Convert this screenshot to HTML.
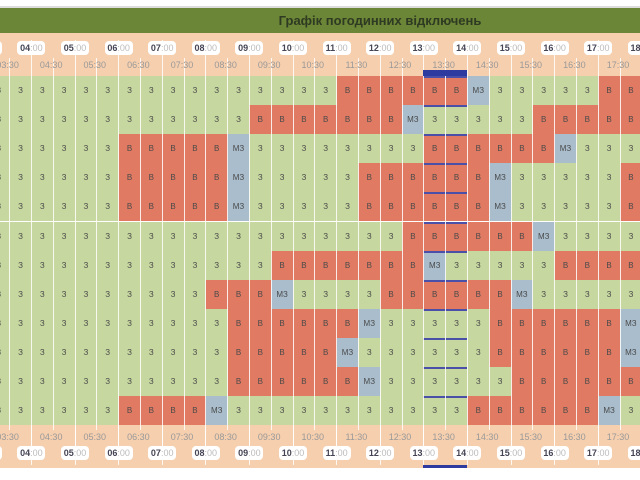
<!DOCTYPE html>
<html><head><meta charset="utf-8"><style>
html,body{margin:0;width:640px;height:480px;overflow:hidden}
body{background:#fff;font-family:"Liberation Sans",sans-serif}
#w{position:relative;width:640px;height:480px;overflow:hidden}
.a{position:absolute}
.c{position:absolute;display:flex;align-items:center;justify-content:center;font-size:8px;color:#4a4a4a}
.hl{position:absolute;background:#fff;border-radius:4px;font-size:9px;font-weight:bold;color:#445;text-align:center;line-height:14px;height:14px;width:28px}
.hl span{color:#bbb;font-weight:normal}
.hh{position:absolute;font-size:9px;color:#999;text-align:center;width:40px}
</style></head><body><div id="w">
<div class="a" style="left:0;top:6px;width:640px;height:2px;background:#ddd"></div>
<div class="a" style="left:0;top:8px;width:640px;height:25px;background:#6b8636"></div>
<div class="a" style="left:230px;top:8px;width:300px;height:25px;line-height:25px;text-align:center;font-size:13px;font-weight:bold;color:#2f3a22">Графік погодинних відключень</div>
<div class="a" style="left:0;top:33px;width:640px;height:43px;background:#f6cfae"></div>
<div class="a" style="left:0;top:425px;width:640px;height:43px;background:#f6cfae"></div>
<div id="g"></div>
</div>
<script>
var rows=[
"ZZZZZZZZZZZZZZZZBBBBBBMZZZZZBB",
"ZZZZZZZZZZZZBBBBBBBMZZZZZBBBBB",
"ZZZZZZBBBBBMZZZZZZZZBBBBBBMZZZ",
"ZZZZZZBBBBBMZZZZZBBBBBBMZZZZZB",
"ZZZZZZBBBBBMZZZZZBBBBBBMZZZZZB",
"ZZZZZZZZZZZZZZZZZZZBBBBBBMZZZZ",
"ZZZZZZZZZZZZZBBBBBBBMZZZZZBBBB",
"ZZZZZZZZZZBBBMZZZZBBBBBBMZZZZZ",
"ZZZZZZZZZZZBBBBBBMZZZZZBBBBBBM",
"ZZZZZZZZZZZBBBBBMZZZZZZBBBBBBM",
"ZZZZZZZZZZZBBBBBBMZZZZZZBBBBBB",
"ZZZZZZBBBBMZZZZZZZZZZZBBBBBBMZ"];
var col={Z:"#c6d79f",B:"#e07a63",M:"#a9bdcc"},txt={Z:"З",B:"В",M:"МЗ"};
var h="",W=21.8,x0=-12.2,RH=29.1,y0=76;
rows.forEach(function(r,ri){for(var c=0;c<30;c++){var k=r[c];
h+='<div class="c" style="left:'+(x0+c*W)+'px;top:'+(y0+ri*RH)+'px;width:'+W+'px;height:'+RH+'px;background:'+col[k]+'">'+txt[k]+'</div>';}
h+='<div class="a" style="left:423px;top:'+(y0+ri*RH)+'px;width:43.6px;height:2px;background:#4a4fa8"></div>';});
for(var c=1;c<30;c++){var x=x0+c*W;var hr=(c%2==0);
h+='<div class="a" style="left:'+(x-0.5)+'px;top:'+(hr?40:58)+'px;width:1px;height:'+(hr?425:372)+'px;background:#fff;opacity:0.85"></div>';
if(hr)h+='<div class="a" style="left:'+(x-0.5)+'px;top:425px;width:1px;height:34px;background:#fff"></div>';}
for(var t=3;t<=18;t++){var x=x0+(t-3)*2*W;
h+='<div class="hl" style="left:'+(x-14)+'px;top:41px">'+(t<10?'0':'')+t+'<span>:00</span></div>';
h+='<div class="hl" style="left:'+(x-14)+'px;top:446px">'+(t<10?'0':'')+t+'<span>:00</span></div>';
var xh=x+W;h+='<div class="hh" style="left:'+(xh-22)+'px;top:60px">'+(t<10?'0':'')+t+':30</div>';
h+='<div class="hh" style="left:'+(xh-22)+'px;top:432px">'+(t<10?'0':'')+t+':30</div>';}
h+='<div class="a" style="left:423px;top:70px;width:43.6px;height:6px;background:#2d3aa0"></div>';
h+='<div class="a" style="left:423px;top:465px;width:43.6px;height:3px;background:#2d3aa0"></div>';
document.getElementById("g").innerHTML=h;
</script>
</body></html>
